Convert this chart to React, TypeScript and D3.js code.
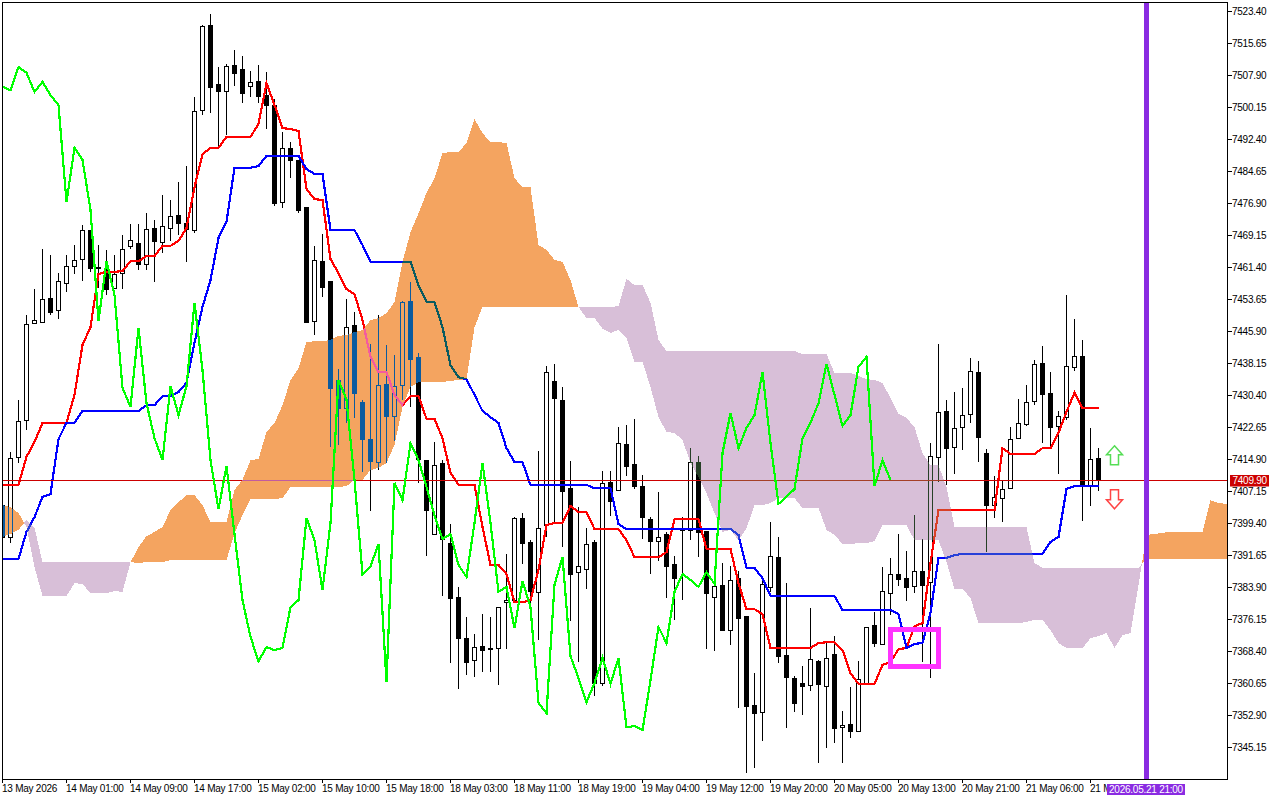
import { useEffect, useRef } from "react";
import * as d3 from "d3";

const opens = [
  7403.8, 7396.1, 7415.5, 7424.4, 7447.9, 7448.1, 7453.9, 7451.1, 7457.6, 7461.7,
  7463.4, 7470.4, 7461.5, 7461.2, 7456.4, 7460.0, 7466.6, 7467.3, 7462.2, 7470.9,
  7467.5, 7470.9, 7474.1, 7472.1, 7470.4, 7499.5, 7520.1, 7505.8, 7504.1, 7510.4,
  7509.4, 7505.3, 7506.5, 7503.1, 7500.7, 7477.2, 7490.3, 7487.4, 7476.0, 7448.4,
  7462.9, 7458.1, 7434.1, 7427.3, 7447.4, 7428.8, 7419.8, 7414.2, 7433.1, 7425.4,
  7432.9, 7453.2, 7439.7, 7414.7, 7396.8, 7414.0, 7394.6, 7381.5, 7371.6, 7366.3,
  7369.7, 7369.2, 7369.2, 7380.3, 7380.8, 7400.7, 7394.8, 7382.8, 7399.0, 7433.9,
  7429.3, 7407.9, 7387.6, 7388.3, 7394.8, 7360.7, 7409.4, 7407.5, 7418.6, 7413.8,
  7408.4, 7400.4, 7395.1, 7396.8, 7389.5, 7397.8, 7397.8, 7414.2, 7397.5, 7381.5,
  7384.5, 7373.5, 7386.1, 7376.9, 7355.4, 7353.7, 7384.0, 7391.2, 7367.5, 7361.9,
  7360.7, 7360.2, 7366.0, 7360.0, 7367.7, 7350.0, 7350.8, 7349.1, 7360.7, 7374.8,
  7370.2, 7382.5, 7387.1, 7386.1, 7384.2, 7387.8, 7385.2, 7415.5, 7426.6, 7417.9,
  7422.7, 7425.9, 7436.0, 7416.4, 7403.8, 7405.5, 7407.9, 7420.0, 7423.5, 7429.0,
  7438.2, 7431.0, 7423.0, 7425.1, 7437.3, 7439.9, 7408.7, 7415.2,
];
const closes = [
  7396.1, 7415.2, 7424.2, 7447.7, 7448.6, 7453.7, 7450.6, 7458.1, 7461.7, 7463.2,
  7470.4, 7461.2, 7461.2, 7456.1, 7459.8, 7465.8, 7468.0, 7462.2, 7470.7, 7467.8,
  7471.4, 7473.8, 7472.1, 7470.7, 7499.3, 7519.8, 7505.1, 7504.1, 7510.2, 7508.5,
  7503.6, 7506.3, 7502.9, 7500.7, 7477.0, 7490.3, 7487.4, 7475.3, 7448.1, 7463.2,
  7456.6, 7432.2, 7427.3, 7446.9, 7431.0, 7419.8, 7414.5, 7432.9, 7425.4, 7432.6,
  7453.0, 7439.2, 7415.0, 7402.6, 7413.5, 7395.6, 7381.3, 7371.6, 7365.8, 7369.4,
  7368.7, 7369.0, 7379.1, 7380.8, 7400.7, 7394.6, 7383.0, 7398.2, 7436.0, 7429.7,
  7407.2, 7387.1, 7389.0, 7394.4, 7360.7, 7409.2, 7404.8, 7418.8, 7413.3, 7408.4,
  7400.9, 7395.1, 7396.0, 7389.0, 7386.1, 7398.2, 7414.2, 7397.3, 7382.5, 7384.2,
  7373.5, 7385.7, 7376.5, 7355.1, 7353.4, 7384.7, 7391.5, 7367.2, 7362.2, 7355.9,
  7360.0, 7366.5, 7360.5, 7366.8, 7349.8, 7350.5, 7349.1, 7361.7, 7374.3, 7370.4,
  7383.0, 7387.1, 7385.9, 7384.0, 7387.8, 7384.5, 7415.7, 7426.4, 7417.6, 7422.5,
  7425.6, 7436.3, 7420.3, 7403.8, 7405.8, 7407.7, 7419.8, 7423.7, 7428.8, 7438.0,
  7430.7, 7422.7, 7425.4, 7437.5, 7439.9, 7408.7, 7415.0, 7409.9,
];
const highs = [
  7403.8, 7416.7, 7429.3, 7449.8, 7456.1, 7465.8, 7464.4, 7460.0, 7464.4, 7466.8,
  7471.6, 7470.4, 7466.8, 7465.6, 7464.4, 7469.2, 7471.9, 7471.9, 7474.5, 7472.9,
  7478.9, 7477.7, 7482.1, 7485.9, 7502.6, 7520.1, 7522.8, 7509.9, 7510.6, 7514.0,
  7512.6, 7508.9, 7510.4, 7508.7, 7502.2, 7494.2, 7491.7, 7487.4, 7476.0, 7466.6,
  7469.5, 7458.1, 7436.8, 7453.7, 7450.6, 7429.3, 7442.8, 7449.8, 7442.6, 7440.1,
  7453.2, 7457.8, 7440.6, 7414.7, 7419.1, 7414.7, 7399.2, 7384.0, 7376.7, 7372.6,
  7377.4, 7376.7, 7379.1, 7392.0, 7400.9, 7401.9, 7395.3, 7416.9, 7437.5, 7438.0,
  7432.4, 7414.5, 7403.3, 7398.2, 7395.3, 7412.0, 7412.0, 7422.7, 7423.2, 7424.7,
  7411.1, 7400.9, 7407.0, 7397.3, 7391.5, 7400.9, 7417.6, 7415.7, 7397.5, 7388.8,
  7389.8, 7389.0, 7387.8, 7376.9, 7363.1, 7386.4, 7399.7, 7396.1, 7384.9, 7362.4,
  7364.8, 7378.9, 7366.3, 7370.6, 7372.1, 7353.9, 7359.8, 7366.0, 7374.3, 7377.9,
  7388.8, 7391.0, 7396.8, 7392.7, 7401.4, 7395.6, 7418.8, 7442.8, 7429.3, 7431.2,
  7432.2, 7439.4, 7438.7, 7417.4, 7410.8, 7409.6, 7422.7, 7429.5, 7432.9, 7438.9,
  7442.3, 7436.0, 7426.6, 7454.7, 7448.9, 7443.8, 7422.5, 7417.6,
];
const lows = [
  7395.3, 7394.6, 7414.0, 7422.0, 7447.9, 7448.1, 7449.8, 7448.9, 7455.4, 7459.8,
  7458.1, 7460.3, 7456.4, 7454.7, 7456.4, 7456.1, 7465.8, 7460.7, 7460.7, 7457.8,
  7464.9, 7467.8, 7469.2, 7462.7, 7469.7, 7498.3, 7498.8, 7490.0, 7493.4, 7505.3,
  7501.2, 7502.6, 7501.2, 7494.9, 7476.2, 7475.8, 7483.0, 7474.5, 7447.9, 7445.0,
  7454.2, 7417.9, 7418.4, 7423.7, 7424.9, 7411.8, 7402.4, 7412.3, 7414.0, 7419.3,
  7429.3, 7427.6, 7409.2, 7391.5, 7396.8, 7381.8, 7365.6, 7359.3, 7362.7, 7362.2,
  7363.4, 7363.4, 7360.2, 7368.9, 7380.1, 7389.5, 7377.9, 7371.1, 7396.0, 7399.5,
  7393.6, 7375.7, 7365.8, 7383.5, 7357.6, 7360.0, 7401.2, 7407.2, 7410.8, 7407.7,
  7395.6, 7387.1, 7390.3, 7381.3, 7376.0, 7380.8, 7395.3, 7391.2, 7368.9, 7368.5,
  7373.3, 7369.9, 7354.7, 7338.9, 7340.1, 7346.7, 7382.8, 7365.6, 7349.8, 7353.7,
  7353.0, 7358.8, 7341.3, 7345.0, 7346.2, 7341.3, 7347.4, 7348.8, 7360.7, 7369.4,
  7370.2, 7377.2, 7384.2, 7380.6, 7382.5, 7365.8, 7361.9, 7409.4, 7408.7, 7411.3,
  7417.1, 7423.7, 7414.2, 7392.4, 7400.7, 7399.7, 7407.9, 7419.8, 7423.0, 7428.0,
  7418.8, 7417.9, 7411.3, 7424.4, 7436.3, 7399.9, 7403.6, 7407.2,
];

const tenkan = [
  7408.7, 7408.7, 7408.7, 7415.5, 7419.1, 7423.7, 7423.7, 7423.7, 7423.7, 7430.5,
  7442.6, 7446.9, 7459.8, 7460.3, 7460.3, 7460.5, 7462.9, 7462.9, 7464.1, 7464.1,
  7466.6, 7466.6, 7467.8, 7470.9, 7480.8, 7488.8, 7490.3, 7490.3, 7493.0, 7493.0,
  7493.0, 7493.0, 7496.1, 7506.0, 7500.7, 7495.1, 7494.9, 7494.4, 7480.4, 7477.9,
  7477.7, 7463.4, 7460.0, 7456.1, 7454.9, 7448.6, 7439.7, 7436.0, 7436.0, 7430.5,
  7428.0, 7430.2, 7430.2, 7424.7, 7424.7, 7420.0, 7411.6, 7408.7, 7408.7, 7408.7,
  7398.5, 7389.3, 7389.3, 7387.1, 7380.3, 7380.3, 7380.8, 7388.1, 7399.0, 7399.5,
  7399.5, 7403.6, 7402.1, 7402.1, 7398.0, 7398.0, 7398.0, 7398.0, 7395.3, 7391.2,
  7391.2, 7391.2, 7391.2, 7392.4, 7400.4, 7400.4, 7400.4, 7400.4, 7393.2, 7393.2,
  7393.2, 7393.2, 7384.9, 7378.6, 7378.6, 7377.4, 7369.2, 7369.2, 7369.2, 7369.2,
  7369.2, 7369.2, 7370.4, 7370.6, 7370.6, 7368.7, 7363.1, 7360.5, 7360.5, 7360.5,
  7365.1, 7365.8, 7368.9, 7369.2, 7374.5, 7375.2, 7389.8, 7402.6, 7402.6, 7402.6,
  7402.6, 7402.6, 7402.6, 7402.6, 7402.6, 7417.6, 7416.2, 7416.2, 7416.2, 7416.2,
  7417.6, 7417.6, 7421.3, 7426.4, 7431.0, 7427.3, 7427.3, 7427.3,
];
const kijun = [
  7390.8, 7390.8, 7390.8, 7397.3, 7400.9, 7405.8, 7406.5, 7419.8, 7423.7, 7423.7,
  7426.6, 7426.6, 7426.6, 7426.6, 7426.6, 7426.6, 7426.6, 7426.6, 7428.0, 7428.0,
  7430.2, 7430.2, 7431.2, 7433.4, 7443.1, 7451.8, 7458.3, 7468.5, 7472.4, 7485.5,
  7485.5, 7485.5, 7485.9, 7488.4, 7488.4, 7488.4, 7488.4, 7488.4, 7485.2, 7484.0,
  7484.0, 7470.4, 7470.4, 7470.4, 7470.4, 7466.8, 7462.7, 7462.7, 7462.7, 7462.7,
  7462.7, 7462.7, 7457.1, 7453.0, 7453.0, 7446.9, 7437.7, 7434.8, 7434.3, 7430.5,
  7426.6, 7425.1, 7423.7, 7417.6, 7414.2, 7414.2, 7408.7, 7408.7, 7408.7, 7408.7,
  7408.7, 7408.7, 7408.7, 7408.7, 7407.9, 7407.9, 7407.9, 7399.2, 7398.0, 7398.0,
  7398.0, 7398.0, 7398.0, 7398.0, 7398.0, 7398.0, 7398.0, 7398.0, 7398.0, 7398.0,
  7398.0, 7398.0, 7396.6, 7388.6, 7388.6, 7386.1, 7381.8, 7381.8, 7381.8, 7381.8,
  7381.8, 7381.8, 7381.8, 7381.8, 7381.8, 7378.4, 7378.4, 7378.4, 7378.4, 7378.4,
  7378.4, 7378.4, 7377.4, 7369.2, 7370.2, 7370.4, 7377.7, 7391.0, 7391.0, 7391.7,
  7392.0, 7392.0, 7392.0, 7392.0, 7392.0, 7392.0, 7392.0, 7392.0, 7392.0, 7392.0,
  7392.0, 7394.9, 7396.1, 7407.7, 7408.4, 7408.4, 7408.4, 7408.4,
];
const chikou = [
  7505.1, 7504.3, 7509.9, 7508.5, 7503.9, 7506.3, 7503.1, 7500.7, 7477.2, 7490.3,
  7487.4, 7475.3, 7448.4, 7462.9, 7454.7, 7432.2, 7427.6, 7446.7, 7428.5, 7420.0,
  7414.7, 7432.6, 7425.6, 7432.6, 7452.8, 7436.5, 7414.7, 7402.8, 7413.3, 7396.8,
  7380.8, 7371.9, 7366.0, 7369.4, 7368.7, 7369.2, 7379.1, 7380.8, 7400.7, 7395.3,
  7383.2, 7399.5, 7434.1, 7429.3, 7409.9, 7387.1, 7389.0, 7394.4, 7361.0, 7409.2,
  7405.0, 7418.8, 7414.7, 7408.2, 7401.4, 7395.6, 7396.8, 7389.3, 7386.4, 7399.5,
  7414.0, 7399.5, 7382.8, 7384.0, 7374.0, 7385.4, 7379.1, 7355.9, 7353.4, 7384.5,
  7391.2, 7367.2, 7361.9, 7356.1, 7360.7, 7366.8, 7360.5, 7366.8, 7350.0, 7350.3,
  7349.3, 7361.4, 7374.3, 7370.4, 7382.8, 7387.1, 7385.7, 7384.0, 7387.6, 7384.7,
  7416.4, 7426.1, 7417.6, 7422.5, 7425.6, 7436.0, 7418.8, 7404.1, 7405.8, 7407.7,
  7420.0, 7423.7, 7428.5, 7438.0, 7430.5, 7423.0, 7425.6, 7437.3, 7439.7, 7408.4,
  7414.7, 7409.9,
];
const spanA = [
  7403.8, 7403.3, 7401.9, 7398.5, 7388.8, 7381.8, 7381.8, 7381.8, 7381.8, 7384.9,
  7384.7, 7382.5, 7382.5, 7382.5, 7383.0, 7382.8, 7390.0, 7393.6, 7396.3, 7397.3,
  7398.5, 7402.6, 7404.5, 7406.2, 7406.2, 7403.8, 7399.7, 7399.7, 7399.7, 7407.5,
  7409.9, 7414.7, 7415.0, 7421.5, 7423.7, 7428.0, 7434.1, 7437.0, 7443.3, 7443.5,
  7443.5, 7443.8, 7444.8, 7445.0, 7445.7, 7446.2, 7448.6, 7449.1, 7450.3, 7453.0,
  7462.7, 7469.9, 7474.5, 7479.4, 7483.0, 7489.1, 7489.3, 7489.3, 7491.5, 7497.3,
  7493.9, 7491.7, 7491.7, 7491.5, 7483.0, 7480.8, 7480.8, 7466.8, 7465.6, 7463.2,
  7462.7, 7458.3, 7451.8, 7449.1, 7449.1, 7446.5, 7445.5, 7446.2, 7444.3, 7438.5,
  7438.5, 7432.4, 7425.1, 7421.5, 7421.3, 7419.6, 7414.0, 7410.6, 7406.7, 7401.9,
  7397.3, 7397.8, 7395.3, 7398.2, 7403.8, 7403.8, 7404.3, 7405.5, 7405.5, 7405.5,
  7403.1, 7403.1, 7403.1, 7397.8, 7396.6, 7394.4, 7394.4, 7394.6, 7394.6, 7395.1,
  7399.0, 7399.0, 7399.0, 7399.0, 7395.3, 7395.3, 7395.3, 7395.3, 7390.0, 7383.5,
  7383.5, 7381.3, 7375.2, 7375.2, 7375.2, 7375.2, 7375.2, 7375.2, 7375.5, 7376.0,
  7376.0, 7373.5, 7370.4, 7369.2, 7369.2, 7369.2, 7371.6, 7372.1, 7372.8, 7369.2,
  7372.3, 7372.8, 7384.5, 7396.6, 7396.8, 7397.1, 7397.3, 7397.3, 7397.3, 7397.3,
  7397.3, 7405.0, 7404.3, 7404.1,
];
const spanB = [
  7396.1, 7396.8, 7397.8, 7400.2, 7398.3, 7390.0, 7390.0, 7390.0, 7390.0, 7390.0,
  7390.0, 7390.0, 7390.0, 7390.0, 7390.0, 7390.0, 7390.0, 7389.8, 7390.0, 7390.0,
  7390.0, 7390.5, 7390.5, 7390.5, 7390.5, 7390.5, 7390.5, 7390.5, 7390.5, 7397.0,
  7401.4, 7405.3, 7405.3, 7405.3, 7405.3, 7405.5, 7408.2, 7408.2, 7408.2, 7408.2,
  7408.2, 7408.2, 7408.2, 7408.4, 7409.9, 7409.9, 7412.3, 7412.8, 7414.0, 7418.4,
  7427.6, 7432.4, 7433.6, 7433.6, 7433.6, 7433.6, 7433.9, 7434.1, 7434.3, 7446.9,
  7451.8, 7451.8, 7451.8, 7451.8, 7451.8, 7451.8, 7451.8, 7451.8, 7451.8, 7451.8,
  7451.8, 7451.8, 7451.8, 7451.8, 7451.8, 7451.8, 7451.8, 7452.0, 7458.6, 7457.1,
  7457.1, 7452.8, 7443.8, 7441.1, 7441.1, 7441.1, 7441.1, 7441.1, 7441.1, 7441.1,
  7441.1, 7441.1, 7441.1, 7441.1, 7441.1, 7441.1, 7441.1, 7441.1, 7441.1, 7441.1,
  7440.4, 7440.4, 7440.4, 7440.4, 7435.8, 7435.8, 7435.8, 7435.1, 7434.3, 7434.1,
  7433.4, 7429.7, 7425.9, 7424.9, 7422.7, 7416.4, 7413.5, 7413.5, 7408.2, 7398.5,
  7398.5, 7398.5, 7398.5, 7398.5, 7398.5, 7398.5, 7398.5, 7398.5, 7398.5, 7389.8,
  7388.6, 7388.6, 7388.6, 7388.6, 7388.6, 7388.6, 7388.6, 7388.6, 7388.6, 7388.6,
  7388.6, 7388.6, 7388.6, 7390.8, 7390.8, 7390.8, 7390.8, 7390.8, 7390.8, 7390.8,
  7390.8, 7390.8, 7390.8, 7390.8,
];

const priceTicks = [
  7523.4, 7515.65, 7507.9, 7500.15, 7492.4, 7484.65, 7476.9, 7469.15, 7461.4, 7453.65, 7445.9, 7438.15,
  7430.4, 7422.65, 7414.9, 7407.15, 7399.4, 7391.65, 7383.9, 7376.15, 7368.4, 7360.65, 7352.9, 7345.15,
];
const timeLabels = [
  "13 May 2026", "14 May 01:00", "14 May 09:00", "14 May 17:00", "15 May 02:00", "15 May 10:00",
  "15 May 18:00", "18 May 03:00", "18 May 11:00", "18 May 19:00", "19 May 04:00", "19 May 12:00",
  "19 May 20:00", "20 May 05:00", "20 May 13:00", "20 May 21:00", "21 May 06:00", "21 M",
];
const timeTickBars = timeLabels.map((_, i) => i * 8);

const lastPrice = 7409.9;
const markerBar = 143;
const markerLabel = "2026.05.21 21:00";
const boxBars = [111.06, 117.06];
const boxPrices = [7373.7, 7364.6];
const arrowBar = 139;
const upArrowPrice = 7416;
const downArrowPrice = 7405.1;

const x = d3.scaleLinear().domain([0, 1]).range([2.5, 10.5]);
const y = d3.scaleLinear().domain([7345.15, 7523.4]).range([747.3, 11.3]);
const snap = (v: number) => Math.round(v) + 0.5;

const seriesLine = d3
  .line<number>()
  .x((_, i) => x(i))
  .y((d) => y(d));

// the cloud changes colour where the spans cross, so add those points
type CloudRow = { k: number; a: number; b: number };
const cloudRows: CloudRow[] = [];
spanA.forEach((a, k) => {
  const b = spanB[k];
  cloudRows.push({ k, a, b });
  if (k < spanA.length - 1) {
    const d0 = a - b;
    const d1 = spanA[k + 1] - spanB[k + 1];
    if (d0 * d1 < 0) {
      const t = d0 / (d0 - d1);
      const v = a + (spanA[k + 1] - a) * t;
      cloudRows.push({ k: k + t, a: v, b: v });
    }
  }
});
const bullArea = d3
  .area<CloudRow>()
  .x((d) => x(d.k))
  .y0((d) => y(d.b))
  .y1((d) => y(Math.max(d.a, d.b)));
const bearArea = d3
  .area<CloudRow>()
  .x((d) => x(d.k))
  .y0((d) => y(Math.min(d.a, d.b)))
  .y1((d) => y(d.b));

const FONT = '"Liberation Sans", Arial, sans-serif';
const LINE_WIDTH = 2.2;

export default function App() {
  const yAxisRef = useRef<SVGGElement>(null);
  const xAxisRef = useRef<SVGGElement>(null);

  useEffect(() => {
    if (!yAxisRef.current || !xAxisRef.current) return;
    const yAxis = d3
      .axisRight(y)
      .tickValues(priceTicks)
      .tickFormat((d) => (d as number).toFixed(2))
      .tickSize(5)
      .tickPadding(0);
    const yg = d3.select(yAxisRef.current).call(yAxis);
    yg.select(".domain").remove();
    yg.selectAll("text").attr("fill", "#000");

    const xAxis = d3
      .axisBottom(x)
      .tickValues(timeTickBars)
      .tickFormat((_, i) => timeLabels[i])
      .tickSize(4)
      .offset(0);
    const xg = d3.select(xAxisRef.current).call(xAxis);
    xg.select(".domain").remove();
    xg.selectAll("text")
      .attr("fill", "#000")
      .attr("text-anchor", "start")
      .attr("x", -0.5)
      .attr("y", 13)
      .attr("dy", 0);
    for (const g of [yg, xg]) {
      g.attr("font-family", FONT).attr("font-size", 10).attr("letter-spacing", -0.25);
      g.selectAll("line").attr("stroke", "#000").attr("shape-rendering", "crispEdges");
    }
  }, []);

  const priceY = snap(y(lastPrice));
  const markerX = x(markerBar);

  return (
    <svg
      width={1280}
      height={800}
      style={{ position: "fixed", left: 0, top: 0, isolation: "isolate" }}
    >
      <defs>
        <clipPath id="plot">
          <rect x={3} y={3} width={1224} height={776} />
        </clipPath>
      </defs>
      <rect width={1280} height={800} fill="#fff" />

      <g clipPath="url(#plot)">
        {/* the clipped group is its own blend context, so it needs its own white */}
        <rect x={3} y={3} width={1224} height={776} fill="#fff" />
        <g shapeRendering="crispEdges">
          {opens.map((open, i) => {
            const close = closes[i];
            const top = snap(y(Math.max(open, close)));
            const bottom = snap(y(Math.min(open, close)));
            return (
              <g key={i}>
                <line x1={x(i)} x2={x(i)} y1={y(highs[i])} y2={y(lows[i])} stroke="#000" />
                <rect
                  x={x(i) - 2}
                  y={top}
                  width={4}
                  height={Math.max(bottom - top, 1)}
                  fill={close >= open ? "#fff" : "#000"}
                  stroke="#000"
                />
              </g>
            );
          })}
        </g>

        <path d={seriesLine(tenkan)!} fill="none" stroke="#ff0000" strokeWidth={LINE_WIDTH} shapeRendering="crispEdges" />
        <path d={seriesLine(kijun)!} fill="none" stroke="#0000ff" strokeWidth={LINE_WIDTH} shapeRendering="crispEdges" />
        <line x1={3} x2={1227} y1={priceY} y2={priceY} stroke="#cc0000" shapeRendering="crispEdges" />

        {/* difference keeps the inverted look of the terminal's cloud fill */}
        <path
          d={bullArea(cloudRows)!}
          fill="#0b5b9f"
          shapeRendering="crispEdges"
          style={{ mixBlendMode: "difference" }}
        />
        <path
          d={bearArea(cloudRows)!}
          fill="#274027"
          shapeRendering="crispEdges"
          style={{ mixBlendMode: "difference" }}
        />

        <path d={seriesLine(chikou)!} fill="none" stroke="#00ff00" strokeWidth={LINE_WIDTH} shapeRendering="crispEdges" />

        <rect x={markerX - 2.5} y={3} width={5} height={776} fill="#8a2be2" shapeRendering="crispEdges" />

        <rect
          x={x(boxBars[0])}
          y={y(boxPrices[0])}
          width={x(boxBars[1]) - x(boxBars[0])}
          height={y(boxPrices[1]) - y(boxPrices[0])}
          fill="none"
          stroke="#ff33ff"
          strokeWidth={5}
          shapeRendering="crispEdges"
        />

        <path
          transform={`translate(${x(arrowBar)},${y(upArrowPrice)})`}
          d="M0,-9 L8,0 L4,0 L4,10 L-4,10 L-4,0 L-8,0 Z"
          fill="#fff"
          stroke="#55dd55"
          strokeWidth={1.5}
        />
        <path
          transform={`translate(${x(arrowBar)},${y(downArrowPrice)})`}
          d="M0,9 L8,0 L4,0 L4,-10 L-4,-10 L-4,0 L-8,0 Z"
          fill="#fff"
          stroke="#ff4444"
          strokeWidth={1.5}
        />
      </g>

      <rect x={2.5} y={2.5} width={1225} height={777} fill="none" stroke="#000" shapeRendering="crispEdges" />
      <g ref={yAxisRef} transform="translate(1227,0)" />
      <g ref={xAxisRef} transform="translate(0,779)" />

      <rect x={1230} y={475} width={39} height={11.5} fill="#cc0000" />
      <text x={1232.5} y={484.3} fill="#fff" fontFamily={FONT} fontSize={10} letterSpacing={-0.25}>
        {lastPrice.toFixed(2)}
      </text>

      <rect x={markerX - 39.5} y={784} width={78} height={11} fill="#8a2be2" />
      <text x={markerX - 0.5} y={793} fill="#fff" textAnchor="middle" fontFamily={FONT} fontSize={10} letterSpacing={-0.25}>
        {markerLabel}
      </text>
    </svg>
  );
}
